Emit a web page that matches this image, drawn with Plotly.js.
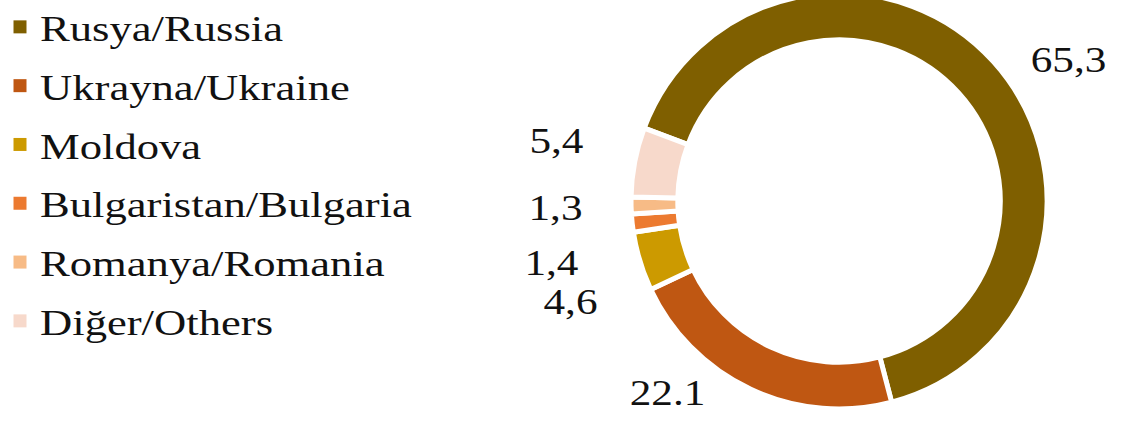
<!DOCTYPE html>
<html>
<head>
<meta charset="utf-8">
<script src="https://cdn.plot.ly/plotly-3.0.1.min.js"></script>
<style>
  html, body { margin: 0; padding: 0; background: #fff; overflow: hidden; width: 1124px; height: 423px; }
  #chart { position: absolute; left: 0; top: -7px; width: 1124px; height: 440px; }
  #chart text.legendtext { transform-box: fill-box; transform-origin: left center; transform: scaleX(1.24); }
  #chart .annotation-text { transform-box: fill-box; transform-origin: center center; transform: scaleX(1.2); }
  #chart .legend, #chart .legend .scrollbox, #chart .legend g { clip-path: none !important; }
</style>
</head>
<body>
<div id="chart"></div>
<script>
// ---- data ----
const categories = ["Rusya/Russia", "Ukrayna/Ukraine", "Moldova", "Bulgaristan/Bulgaria", "Romanya/Romania", "Diğer/Others"];
const shares = [65.3, 22.1, 4.6, 1.4, 1.3, 5.4];
const labelTexts = ["65,3", "22.1", "4,6", "1,4", "1,3", "5,4"];
const sliceColors = ["#7F5F00", "#BF5712", "#CC9A00", "#EC7A30", "#F7BB86", "#F7D9CB"];

// ---- label placement (paper coords) ----
const labelX = [0.951, 0.5943, 0.508, 0.4911, 0.4938, 0.4947];
const labelY = [0.8477, 0.0909, 0.2977, 0.3864, 0.5114, 0.6636];

const serif = "Liberation Serif, Times New Roman, serif";

const traces = [{
  type: "pie",
  labels: categories,
  values: shares,
  sort: false,
  direction: "clockwise",
  rotation: -69.5,
  hole: 0.775,
  textinfo: "none",
  hoverinfo: "label+value",
  showlegend: false,
  marker: { colors: sliceColors, line: { color: "#ffffff", width: 5 } },
  domain: { x: [631 / 1124, 1047 / 1124], y: [1 - 416 / 440, 1] }
}];

// legend entries (one dummy trace per category so entries can be spaced)
categories.forEach((c, i) => {
  traces.push({
    type: "scatter",
    mode: "markers",
    x: [null], y: [null],
    name: c,
    legendgroup: "g" + i,
    marker: { symbol: "square", size: 13, color: sliceColors[i] },
    hoverinfo: "skip",
    showlegend: true
  });
});

const annotations = labelTexts.map((t, i) => ({
  text: t,
  xref: "paper", yref: "paper",
  x: labelX[i], y: labelY[i],
  xanchor: "center", yanchor: "middle",
  showarrow: false,
  font: { family: serif, size: 36, color: "#111111" }
}));

const layout = {
  width: 1124,
  height: 440,
  margin: { l: 0, r: 0, t: 0, b: 0 },
  paper_bgcolor: "#ffffff",
  plot_bgcolor: "#ffffff",
  xaxis: { visible: false, domain: [0, 0.01] },
  yaxis: { visible: false, domain: [0, 0.01] },
  showlegend: true,
  legend: {
    x: 0, xanchor: "left",
    y: 0.991, yanchor: "top",
    font: { family: serif, size: 36, color: "#111111" },
    tracegroupgap: 9,
    itemsizing: "trace",
    bgcolor: "rgba(0,0,0,0)"
  },
  annotations: annotations
};

Plotly.newPlot("chart", traces, layout, { displayModeBar: false, staticPlot: true });
</script>
</body>
</html>
